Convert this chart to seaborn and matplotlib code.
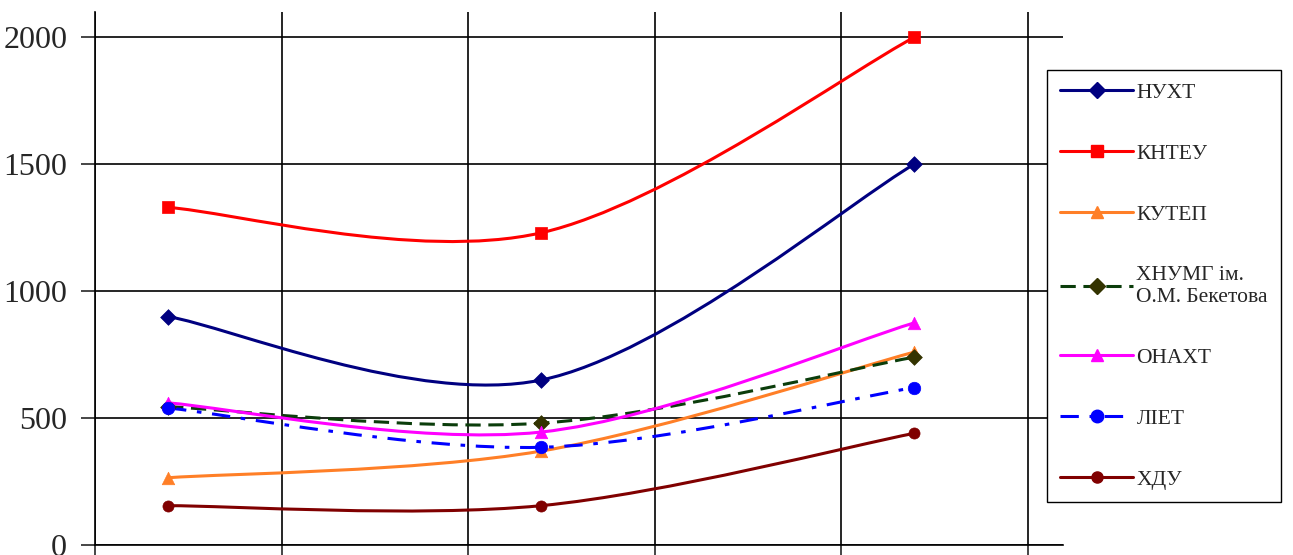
import numpy as np
import matplotlib
matplotlib.use("Agg")
import matplotlib.pyplot as plt
from matplotlib.path import Path
from matplotlib.patches import PathPatch
from matplotlib.lines import Line2D
import pandas as pd
import seaborn as sns

# dani
points = [0, 1, 2]
nuht = [900, 650, 1500]
knteu = [1330, 1230, 2000]
kutep = [265, 370, 760]
hnumg = [545, 480, 740]
onaht = [560, 445, 875]
liet = [540, 385, 620]
hdu = [155, 155, 440]

names = ["НУХТ", "КНТЕУ", "КУТЕП", "ХНУМГ ім.\nО.М. Бекетова", "ОНАХТ", "ЛІЕТ", "ХДУ"]
series = [nuht, knteu, kutep, hnumg, onaht, liet, hdu]
colors = ["#000080", "#FF0000", "#FF7F27", "#0B3D0B", "#FF00FF", "#0000FF", "#800000"]
marker_colors = ["#000080", "#FF0000", "#FF7F27", "#333300", "#FF00FF", "#0000FF", "#800000"]
markers = ["D", "s", "^", "D", "^", "o", "o"]
styles = ["-", "-", "-", (0, (5, 2.5)), "-", (0, (6, 3.5, 1.5, 3.5)), "-"]
msizes = [8, 9, 9, 8, 9, 9, 8]

sns.set_style("white")
plt.rcParams["font.family"] = ["Liberation Serif", "DejaVu Serif"]

fig = plt.figure(figsize=(12.93, 5.55), dpi=100)
ax = fig.add_axes([95 / 1293, 10 / 555, (1063 - 95) / 1293, (545 - 12) / 555])


def smooth_path(xs, ys):
    # Excel-like smoothing (bezier, tension 1/6)
    n = len(xs)
    verts = [(xs[0], ys[0])]
    codes = [Path.MOVETO]
    for i in range(n - 1):
        x0, y0 = xs[max(i - 1, 0)], ys[max(i - 1, 0)]
        x1, y1 = xs[i], ys[i]
        x2, y2 = xs[i + 1], ys[i + 1]
        x3, y3 = xs[min(i + 2, n - 1)], ys[min(i + 2, n - 1)]
        c1 = (x1 + (x2 - x0) / 6, y1 + (y2 - y0) / 6)
        c2 = (x2 - (x3 - x1) / 6, y2 - (y3 - y1) / 6)
        verts += [c1, c2, (x2, y2)]
        codes += [Path.CURVE4] * 3
    return Path(verts, codes)


rows = []
for name, vals in zip(names, series):
    for p, v in zip(points, vals):
        rows.append({"point": p, "value": v, "name": name})
df = pd.DataFrame(rows)

for i, (name, vals) in enumerate(zip(names, series)):
    patch = PathPatch(smooth_path(points, vals), facecolor="none", edgecolor=colors[i],
                      lw=2.2, linestyle=styles[i], zorder=3, capstyle="butt")
    ax.add_patch(patch)
    sns.scatterplot(data=df[df["name"] == name], x="point", y="value", ax=ax,
                    marker=markers[i], color=marker_colors[i], s=msizes[i] ** 2,
                    edgecolor=marker_colors[i], linewidth=0.5, zorder=4, legend=False)

ax.set_xlim(-0.196, 2.399)
ax.set_ylim(0, 2100)
ax.set_xticks(np.arange(-0.196, 2.35, 0.5))
ax.set_xticklabels([])
ax.set_yticks([0, 500, 1000, 1500, 2000])
ax.set_xlabel("")
ax.set_ylabel("")
ax.grid(True, color="black", lw=1.2)
for s in ["top", "right"]:
    ax.spines[s].set_visible(False)
for s in ["left", "bottom"]:
    ax.spines[s].set_color("black")
    ax.spines[s].set_linewidth(1.2)
ax.tick_params(axis="y", direction="out", length=10, width=1.2, labelsize=23, pad=10, left=True)
ax.tick_params(axis="x", direction="out", length=8, width=1.2, bottom=True)

handles = [Line2D([0], [0], color=colors[i], lw=2.2, linestyle=styles[i], marker=markers[i],
                  markersize=msizes[i], markerfacecolor=marker_colors[i],
                  markeredgecolor=marker_colors[i]) for i in range(len(names))]
leg = fig.legend(handles, names, loc="upper left", bbox_to_anchor=(1047 / 1293, 1 - 70 / 555),
                 fontsize=15.5, frameon=True, fancybox=False, framealpha=1, edgecolor="black",
                 labelspacing=1.9, handlelength=3.4, handletextpad=0.15, borderpad=0.6,
                 borderaxespad=0)
leg.get_frame().set_linewidth(1.0)

fig.savefig("out.png", dpi=100)
